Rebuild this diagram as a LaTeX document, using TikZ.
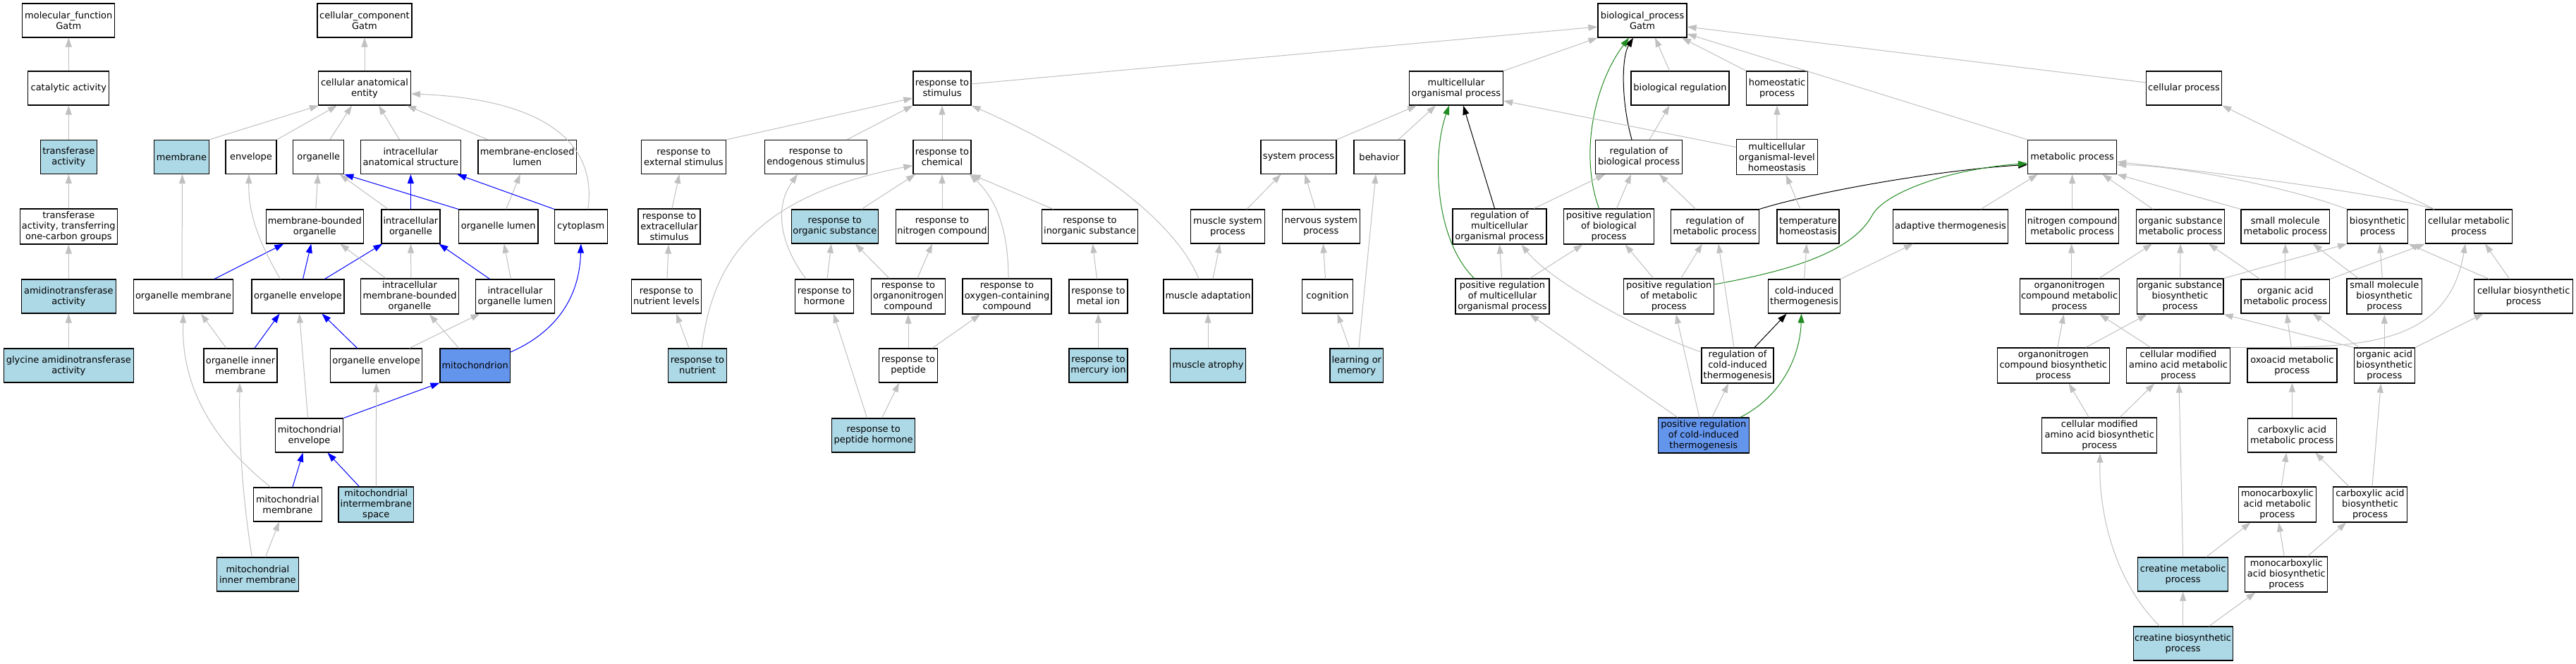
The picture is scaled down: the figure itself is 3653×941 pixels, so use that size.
\documentclass[tikz,border=0pt]{standalone}
\usepackage{fontspec}
\setmainfont{DejaVu Sans}
\usetikzlibrary{arrows.meta}
\definecolor{egray}{RGB}{192,192,192}
\definecolor{lblue}{RGB}{173,216,230}
\definecolor{cblue}{RGB}{100,149,237}
\definecolor{fgreen}{RGB}{34,139,34}
\begin{document}
\begin{tikzpicture}[x=1pt,y=-1pt,
  box/.style={draw=black,line width=1.2pt,rectangle,inner xsep=1pt,inner ysep=0pt,align=center,
    font=\fontsize{13}{15}\selectfont,minimum height=48pt,fill=white},
  tall/.style={minimum height=50pt},
  lb/.style={fill=lblue},
  cb/.style={fill=cblue},
  isa/.style={draw=egray,line width=1pt,-{Triangle[length=13pt,width=9pt]}},
  part/.style={isa,draw=blue},
  reg/.style={isa,draw=black},
  preg/.style={isa,draw=fgreen}]
\fill[white] (0,0) rectangle (3653,941);
\useasboundingbox (0,0) rectangle (3653,941);

% ---------- molecular function ----------
\node[box,minimum width=131] (mf) at (97.3,29) {molecular\_function\\Gatm};
\node[box,minimum width=115] (cat) at (97.3,125) {catalytic activity};
\node[box,lb,minimum width=80] (trans) at (97.3,222.5) {transferase\\activity};
\node[box,tall,minimum width=138] (trans1c) at (97.3,321) {transferase\\activity, transferring\\one-carbon groups};
\node[box,lb,minimum width=134] (amid) at (97.3,420) {amidinotransferase\\activity};
\node[box,lb,minimum width=184] (gly) at (97.3,518) {glycine amidinotransferase\\activity};

% ---------- cellular component ----------
\node[box,minimum width=134] (cc) at (517,29) {cellular\_component\\Gatm};
\node[box,minimum width=131] (cae) at (517,125) {cellular anatomical\\entity};
\node[box,lb,minimum width=77.5] (memb) at (257.5,222.5) {membrane};
\node[box,minimum width=72] (env) at (356,222.5) {envelope};
\node[box,minimum width=72] (org) at (451.8,222.5) {organelle};
\node[box,minimum width=142] (ias) at (582.4,222.5) {intracellular\\anatomical structure};
\node[box,minimum width=139.5] (mel) at (747.7,222.5) {membrane-enclosed\\lumen};
\node[box,minimum width=138] (mbo) at (446.3,321) {membrane-bounded\\organelle};
\node[box,minimum width=83] (io) at (582.4,321) {intracellular\\organelle};
\node[box,minimum width=112.5] (ol) at (706.7,321) {organelle lumen};
\node[box,minimum width=74.6] (cyto) at (823.8,321) {cytoplasm};
\node[box,minimum width=141] (om) at (260,420) {organelle membrane};
\node[box,minimum width=131] (oe) at (422.5,420) {organelle envelope};
\node[box,tall,minimum width=139] (imbo) at (581,420) {intracellular\\membrane-bounded\\organelle};
\node[box,minimum width=112] (iol) at (730.5,420) {intracellular\\organelle lumen};
\node[box,minimum width=104] (oim) at (341,518) {organelle inner\\membrane};
\node[box,minimum width=130] (oel) at (533.6,518) {organelle envelope\\lumen};
\node[box,cb,minimum width=99.3] (mito) at (673.7,518) {mitochondrion};
\node[box,minimum width=96.4] (me) at (438.6,617) {mitochondrial\\envelope};
\node[box,minimum width=97] (mm) at (407.9,715) {mitochondrial\\membrane};
\node[box,tall,lb,minimum width=106.7] (mis) at (533.3,715) {mitochondrial\\intermembrane\\space};
\node[box,lb,minimum width=115.4] (mim) at (365.4,814) {mitochondrial\\inner membrane};

% ---------- biological process ----------
\node[box,minimum width=126] (bp) at (2329,29) {biological\_process\\Gatm};
\node[box,minimum width=82] (rs) at (1336,125) {response to\\stimulus};
\node[box,minimum width=133] (mop) at (2065,125) {multicellular\\organismal process};
\node[box,minimum width=139] (breg) at (2382.5,125) {biological regulation};
\node[box,minimum width=86.6] (homeo) at (2520,125) {homeostatic\\process};
\node[box,minimum width=107] (cp) at (3097,125) {cellular process};
\node[box,minimum width=120.6] (res) at (969.4,222.5) {response to\\external stimulus};
\node[box,minimum width=144.7] (rendo) at (1157,222.5) {response to\\endogenous stimulus};
\node[box,minimum width=82] (rchem) at (1336,222.5) {response to\\chemical};
\node[box,minimum width=107] (sysp) at (1841.5,222.5) {system process};
\node[box,minimum width=72] (beh) at (1956,222.5) {behavior};
\node[box,minimum width=123] (rbp) at (2324,222.5) {regulation of\\biological process};
\node[box,tall,minimum width=115] (mlh) at (2519.8,222.5) {multicellular\\organismal-level\\homeostasis};
\node[box,minimum width=126] (metp) at (2938.6,222.5) {metabolic process};
\node[box,tall,minimum width=88] (rext) at (949,321) {response to\\extracellular\\stimulus};
\node[box,lb,minimum width=123.4] (ros) at (1183.8,321) {response to\\organic substance};
\node[box,minimum width=131.5] (rnc) at (1336,321) {response to\\nitrogen compound};
\node[box,minimum width=136] (ris) at (1545.5,321) {response to\\inorganic substance};
\node[box,minimum width=105] (msp) at (1741,321) {muscle system\\process};
\node[box,minimum width=110] (nsp) at (1873.3,321) {nervous system\\process};
\node[box,tall,minimum width=133] (rmop) at (2126.5,321) {regulation of\\multicellular\\organismal process};
\node[box,tall,minimum width=128.6] (prbp) at (2281.5,321) {positive regulation\\of biological\\process};
\node[box,minimum width=125] (rmp) at (2431.9,321) {regulation of\\metabolic process};
\node[box,minimum width=88] (th) at (2564,321) {temperature\\homeostasis};
\node[box,minimum width=163] (at) at (2766,321) {adaptive thermogenesis};
\node[box,minimum width=131.6] (ncmp) at (2938.6,321) {nitrogen compound\\metabolic process};
\node[box,minimum width=125] (osmp) at (3092,321) {organic substance\\metabolic process};
\node[box,minimum width=125.7] (smmp) at (3240.8,321) {small molecule\\metabolic process};
\node[box,minimum width=86] (bsp) at (3371.7,321) {biosynthetic\\process};
\node[box,minimum width=122.8] (cmp) at (3501,321) {cellular metabolic\\process};
\node[box,minimum width=99] (rnl) at (945,420) {response to\\nutrient levels};
\node[box,minimum width=82.7] (rh) at (1169,420) {response to\\hormone};
\node[box,tall,minimum width=104.5] (ronc) at (1288,420) {response to\\organonitrogen\\compound};
\node[box,tall,minimum width=126] (rocc) at (1428,420) {response to\\oxygen-containing\\compound};
\node[box,minimum width=83] (rmi) at (1557.5,420) {response to\\metal ion};
\node[box,minimum width=126] (ma) at (1713,420) {muscle adaptation};
\node[box,minimum width=72.3] (cog) at (1882.5,420) {cognition};
\node[box,tall,minimum width=133] (prmop) at (2130.5,420) {positive regulation\\of multicellular\\organismal process};
\node[box,tall,minimum width=128] (prmp) at (2366.7,420) {positive regulation\\of metabolic\\process};
\node[box,minimum width=102] (cit) at (2558.5,420) {cold-induced\\thermogenesis};
\node[box,tall,minimum width=141] (oncmp) at (2934.6,420) {organonitrogen\\compound metabolic\\process};
\node[box,tall,minimum width=122.8] (osbp) at (3091.5,420) {organic substance\\biosynthetic\\process};
\node[box,minimum width=125.7] (oamp) at (3240.8,420) {organic acid\\metabolic process};
\node[box,tall,minimum width=106.6] (smbp) at (3381.3,420) {small molecule\\biosynthetic\\process};
\node[box,minimum width=139.7] (cbp) at (3578.7,420) {cellular biosynthetic\\process};
\node[box,lb,minimum width=83] (rn) at (989,518) {response to\\nutrient};
\node[box,minimum width=82.7] (rp) at (1288,518) {response to\\peptide};
\node[box,lb,minimum width=83] (rmerc) at (1557.5,518) {response to\\mercury ion};
\node[box,lb,minimum width=106.7] (matr) at (1713,518) {muscle atrophy};
\node[box,lb,minimum width=75.8] (lm) at (1923.8,518) {learning or\\memory};
\node[box,tall,minimum width=102] (rcit) at (2464,518) {regulation of\\cold-induced\\thermogenesis};
\node[box,tall,minimum width=158.8] (oncbp) at (2911.8,518) {organonitrogen\\compound biosynthetic\\process};
\node[box,tall,minimum width=147] (cmaamp) at (3089,518) {cellular modified\\amino acid metabolic\\process};
\node[box,minimum width=127] (oxo) at (3250.4,518) {oxoacid metabolic\\process};
\node[box,tall,minimum width=86] (oabp) at (3381.3,518) {organic acid\\biosynthetic\\process};
\node[box,lb,minimum width=118] (rph) at (1238.6,617) {response to\\peptide hormone};
\node[box,tall,cb,minimum width=128.6] (prcit) at (2415.8,617) {positive regulation\\of cold-induced\\thermogenesis};
\node[box,tall,minimum width=163] (cmaabp) at (2977.2,617) {cellular modified\\amino acid biosynthetic\\process};
\node[box,minimum width=125.7] (camp) at (3250.4,617) {carboxylic acid\\metabolic process};
\node[box,tall,minimum width=110] (mcamp) at (3229.4,715) {monocarboxylic\\acid metabolic\\process};
\node[box,tall,minimum width=104.4] (cabp) at (3361,715) {carboxylic acid\\biosynthetic\\process};
\node[box,lb,minimum width=128] (crmp) at (3095.6,814) {creatine metabolic\\process};
\node[box,tall,minimum width=117] (mcabp) at (3242.3,814) {monocarboxylic\\acid biosynthetic\\process};
\node[box,lb,minimum width=141] (crbp) at (3095.6,912) {creatine biosynthetic\\process};

% ---------- edges: molecular function ----------
\draw[isa] (cat.north) -- (mf.south);
\draw[isa] (trans.north) -- (cat.south);
\draw[isa] (trans1c.north) -- (trans.south);
\draw[isa] (amid.north) -- (trans1c.south);
\draw[isa] (gly.north) -- (amid.south);

% ---------- edges: cellular component ----------
\draw[isa] (cae.north) -- (cc.south);
\draw[isa] (memb.north east) -- ([xshift=-65]cae.south);
\draw[isa] (env.north east) -- ([xshift=-39]cae.south);
\draw[isa] ([xshift=16]org.north) -- ([xshift=-18]cae.south);
\draw[isa] ([xshift=-16]ias.north) -- ([xshift=20]cae.south);
\draw[isa] ([xshift=-56]mel.north) -- ([xshift=60]cae.south);
\draw[isa] ([xshift=10]cyto.north) .. controls (848,195) and (760,140) .. ([yshift=-8]cae.east);
\draw[isa] ([xshift=1.5]mbo.north) -- ([xshift=-1]org.south);
\draw[isa] ([xshift=-32]io.north) -- ([xshift=30]org.south);
\draw[part] (io.north) -- (ias.south);
\draw[part] (ol.north west) -- (org.south east);
\draw[isa] ([xshift=11]ol.north) -- ([xshift=-10]mel.south);
\draw[part] (cyto.north west) -- ([xshift=66]ias.south);
\draw[isa] ([xshift=-2]om.north) -- ([xshift=1]memb.south);
\draw[part] ([xshift=44]om.north) -- ([xshift=-44]mbo.south);
\draw[part] ([xshift=7]oe.north) -- ([xshift=-5]mbo.south);
\draw[part] ([xshift=38]oe.north) -- ([xshift=-40]io.south);
\draw[isa] ([xshift=-25]oe.north) .. controls (365,340) and (352,300) .. ([xshift=-3]env.south);
\draw[isa] ([xshift=-34]imbo.north) -- ([xshift=36]mbo.south);
\draw[isa] ([xshift=2]imbo.north) -- (io.south);
\draw[part] ([xshift=-36]iol.north) -- ([xshift=40]io.south);
\draw[isa] ([xshift=-6]iol.north) -- ([xshift=8]ol.south);
\draw[isa] ([xshift=-20]oim.north) -- ([xshift=25]om.south);
\draw[part] ([xshift=20]oim.north) -- ([xshift=-26]oe.south);
\draw[part] ([xshift=-27]oel.north) -- ([xshift=34]oe.south);
\draw[isa] ([xshift=47]oel.north) -- ([xshift=-50]iol.south);
\draw[isa] ([xshift=-23]mito.north) -- ([xshift=28]imbo.south);
\draw[part] ([yshift=19]mito.east) .. controls (790,470) and (822,420) .. (cyto.south);
\draw[isa] ([xshift=-2]me.north) -- ([xshift=2]oe.south);
\draw[part] (me.north east) -- (mito.south west);
\draw[part] ([xshift=7]mm.north) -- ([xshift=-9]me.south);
\draw[isa] ([xshift=-24]mm.north) .. controls (270,600) and (258,510) .. (om.south);
\draw[part] ([xshift=-24]mis.north) -- ([xshift=26]me.south);
\draw[isa] (mis.north) -- (oel.south);
\draw[isa] ([xshift=11]mim.north) -- ([xshift=-12]mm.south);
\draw[isa] ([xshift=-8]mim.north) .. controls (343,700) and (339,620) .. ([xshift=-1]oim.south);

% ---------- edges: biological process ----------
\draw[isa] ([yshift=6]rs.east) -- ([yshift=-9]bp.west);
\draw[isa] (res.north east) -- ([yshift=-14]rs.west);
\draw[isa] ([xshift=44]rendo.north) -- (rs.south west);
\draw[isa] (rchem.north) -- (rs.south);
\draw[isa] ([xshift=-13]ma.north) .. controls (1670,320) and (1560,230) .. (rs.south east);
\draw[isa] ([xshift=4]rext.north) -- ([xshift=-6]res.south);
\draw[isa] ([xshift=1]rnl.north) -- ([xshift=-1]rext.south);
\draw[isa] ([xshift=-12]rn.north) -- ([xshift=14]rnl.south);
\draw[isa] ([xshift=6]rn.north) .. controls (1010,380) and (1060,280) .. ([yshift=-12]rchem.west);
\draw[isa] ([xshift=-26]rh.north) .. controls (1102,340) and (1100,290) .. ([xshift=-26]rendo.south);
\draw[isa] ([xshift=4]rh.north) -- ([xshift=-5]ros.south);
\draw[isa] ([xshift=-27]ronc.north) -- ([xshift=29]ros.south);
\draw[isa] ([xshift=13]ronc.north) -- ([xshift=-14]rnc.south);
\draw[isa] ([xshift=2]rocc.north) .. controls (1430,320) and (1410,280) .. ([xshift=39]rchem.south);
\draw[isa] ([xshift=38]ros.north) -- ([xshift=-38]rchem.south);
\draw[isa] (rnc.north) -- (rchem.south);
\draw[isa] ([xshift=-52]ris.north) -- (rchem.south east);
\draw[isa] ([xshift=-2]rmi.north) -- ([xshift=4]ris.south);
\draw[isa] (rmerc.north) -- (rmi.south);
\draw[isa] (rp.north) -- (ronc.south);
\draw[isa] ([xshift=34]rp.north) -- ([xshift=-38]rocc.south);
\draw[isa] ([xshift=12]rph.north) -- ([xshift=-13]rp.south);
\draw[isa] ([xshift=-9]rph.north) -- ([xshift=13]rh.south);
\draw[isa] (matr.north) -- (ma.south);
\draw[isa] ([xshift=7]ma.north) -- ([xshift=-11]msp.south);
\draw[isa] (mop.north east) -- (bp.south west);
\draw[reg] ([xshift=-10]rbp.north) .. controls (2298,140) and (2300,80) .. ([xshift=-13]bp.south);
\draw[preg] ([xshift=-14]prbp.north) .. controls (2240,220) and (2260,120) .. ([xshift=-19]bp.south);
\draw[isa] ([xshift=-15]breg.north) -- ([xshift=18]bp.south);
\draw[isa] (homeo.north west) -- ([xshift=56]bp.south);
\draw[isa] (metp.north west) -- ([yshift=-19]bp.east);
\draw[isa] ([yshift=8]cp.west) -- ([yshift=-9]bp.east);
\draw[isa] (sysp.north east) -- ([xshift=-56]mop.south);
\draw[isa] ([xshift=27]beh.north) -- ([xshift=-29]mop.south);
\draw[reg] ([xshift=-7]rmop.north) -- ([xshift=10]mop.south);
\draw[preg] ([xshift=-40]prmop.north) .. controls (2035,340) and (2030,220) .. ([xshift=-10]mop.south);
\draw[isa] ([yshift=14]mlh.west) -- ([yshift=-18]mop.east);
\draw[isa] (mlh.north) -- (homeo.south);
\draw[isa] ([xshift=15]rbp.north) -- ([xshift=-15]breg.south);
\draw[isa] ([xshift=27]msp.north) -- ([xshift=-25]sysp.south);
\draw[isa] ([xshift=-8]nsp.north) -- ([xshift=9]sysp.south);
\draw[isa] ([xshift=-3]cog.north) -- ([xshift=3]nsp.south);
\draw[isa] ([xshift=-10]lm.north) -- ([xshift=14]cog.south);
\draw[isa] ([xshift=3]lm.north) -- ([xshift=-5]beh.south);
\draw[isa] ([xshift=49]rmop.north) -- ([xshift=-48]rbp.south);
\draw[isa] ([xshift=11]prbp.north) -- ([xshift=-11]rbp.south);
\draw[isa] ([xshift=-27]rmp.north) -- ([xshift=29]rbp.south);
\draw[reg] (rmp.north east) .. controls (2580,270) and (2760,240) .. ([yshift=-11]metp.west);
\draw[isa] ([xshift=-11]th.north) -- ([xshift=13]mlh.south);
\draw[isa] ([xshift=-1]prmop.north) -- (rmop.south);
\draw[isa] ([xshift=39]prmop.north) -- ([xshift=-37]prbp.south);
\draw[isa] ([xshift=-22]prmp.north) -- ([xshift=23]prbp.south);
\draw[isa] ([xshift=17]prmp.north) -- ([xshift=-18]rmp.south);
\draw[preg] ([yshift=17]prmp.east) .. controls (2530,385) and (2625,360) .. (2655,305) .. controls (2672,274) and (2760,240) .. ([yshift=-9]metp.west);
\draw[isa] (cit.north) -- ([xshift=-2]th.south);
\draw[isa] (cit.north east) -- ([xshift=-53]at.south);
\draw[isa] ([xshift=43]at.north) -- ([xshift=-49]metp.south);
\draw[reg] ([xshift=24]rcit.north) -- ([xshift=-25]cit.south);
\draw[isa] ([yshift=19]rcit.west) .. controls (2330,470) and (2200,400) .. ([xshift=31]rmop.south);
\draw[isa] ([xshift=-37]prcit.north) -- ([xshift=39]prmop.south);
\draw[isa] ([xshift=-6]prcit.north) -- ([xshift=10]prmp.south);
\draw[isa] ([xshift=-5]rcit.north) -- ([xshift=5]rmp.south);
\draw[preg] ([xshift=52]prcit.north) .. controls (2530,560) and (2553,500) .. ([xshift=-4]cit.south);
\draw[isa] ([xshift=12]prcit.north) -- ([xshift=-13]rcit.south);

% ---------- edges: metabolic ----------
\draw[isa] (ncmp.north) -- (metp.south);
\draw[isa] ([xshift=-39]osmp.north) -- ([xshift=43]metp.south);
\draw[isa] (smmp.north west) -- (metp.south east);
\draw[isa] (bsp.north west) .. controls (3260,270) and (3100,235) .. ([yshift=-11]metp.east);
\draw[isa] ([xshift=-49]cmp.north) .. controls (3380,275) and (3150,245) .. ([yshift=-7]metp.east);
\draw[isa] ([xshift=-49]cmp.north) -- (cp.south east);
\draw[isa] ([xshift=3]oncmp.north) -- ([xshift=-1]ncmp.south);
\draw[isa] ([xshift=42]oncmp.north) -- ([xshift=-40]osmp.south);
\draw[isa] (osbp.north) -- (osmp.south);
\draw[isa] (osbp.north east) -- (bsp.south west);
\draw[isa] (oamp.north) -- (smmp.south);
\draw[isa] ([xshift=-36]oamp.north) -- ([xshift=40]osmp.south);
\draw[isa] ([xshift=-37]smbp.north) -- ([xshift=39]smmp.south);
\draw[isa] ([xshift=-3]smbp.north) -- ([xshift=3]bsp.south);
\draw[isa] ([xshift=-49]cbp.north) -- (bsp.south east);
\draw[isa] ([xshift=-20]cbp.north) -- ([xshift=23]cmp.south);
\draw[isa] (oamp.north east) -- (cmp.south west);
\draw[isa] (cmaamp.north east) .. controls (3330,492) and (3470,500) .. ([xshift=-5]cmp.south);
\draw[isa] ([xshift=6]oncbp.north) -- ([xshift=-8]oncmp.south);
\draw[isa] ([xshift=46]oncbp.north) -- ([xshift=-47]osbp.south);
\draw[isa] ([xshift=-39]cmaamp.north) -- ([xshift=43]oncmp.south);
\draw[isa] (oabp.north west) -- (osbp.south east);
\draw[isa] ([xshift=-1]oxo.north) -- ([xshift=2]oamp.south);
\draw[isa] ([xshift=-36]oabp.north) -- ([xshift=39]oamp.south);
\draw[isa] (oabp.north) -- (smbp.south);
\draw[isa] (oabp.north east) -- ([xshift=-57]cbp.south);
\draw[isa] ([xshift=-15]cmaabp.north) -- ([xshift=22]oncbp.south);
\draw[isa] ([xshift=29]cmaabp.north) -- ([xshift=-34]cmaamp.south);
\draw[isa] (camp.north) -- (oxo.south);
\draw[isa] ([xshift=6]mcamp.north) -- ([xshift=-8]camp.south);
\draw[isa] ([xshift=-30]cabp.north) -- ([xshift=33]camp.south);
\draw[isa] ([xshift=3]cabp.north) -- ([xshift=-5]oabp.south);
\draw[isa] (crmp.north) -- ([xshift=1]cmaamp.south);
\draw[isa] ([xshift=33]crmp.north) -- ([xshift=-38]mcamp.south);
\draw[isa] ([xshift=-3]mcabp.north) -- ([xshift=2]mcamp.south);
\draw[isa] ([xshift=30]mcabp.north) -- ([xshift=-34]cabp.south);
\draw[isa] (crbp.north) -- (crmp.south);
\draw[isa] ([xshift=37]crbp.north) -- ([xshift=-44]mcabp.south);
\draw[isa] ([xshift=-33]crbp.north) .. controls (2995,820) and (2976,720) .. ([xshift=1]cmaabp.south);
\end{tikzpicture}
\end{document}
